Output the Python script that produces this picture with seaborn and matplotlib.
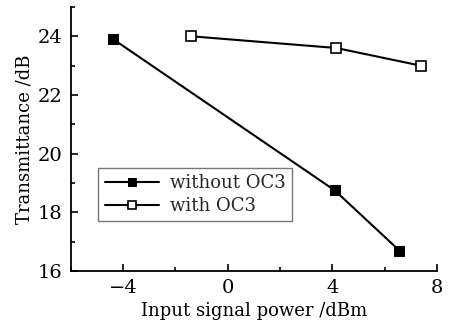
import matplotlib
matplotlib.use("Agg")
import matplotlib.pyplot as plt
import seaborn as sns
import pandas as pd
from matplotlib.ticker import MultipleLocator

x_without = [-4.38, 4.09, 6.56]
y_without = [23.9, 18.75, 16.7]
x_with = [-1.41, 4.15, 7.37]
y_with = [24.0, 23.6, 23.0]
labels = ["without OC3", "with OC3"]

sns.set_theme(style="ticks")
plt.rcParams['font.family'] = ['DejaVu Serif']
plt.rcParams['mathtext.fontset'] = 'dejavuserif'

fig = plt.figure(figsize=(4.51, 3.29), dpi=100)
ax = fig.add_axes([0.157, 0.176, 0.812, 0.803])

df1 = pd.DataFrame({"x": x_without, "y": y_without})
df2 = pd.DataFrame({"x": x_with, "y": y_with})
sns.lineplot(data=df1, x="x", y="y", ax=ax, color="black", lw=1.5, marker="s",
             markersize=7, markerfacecolor="black", markeredgecolor="black",
             label=labels[0], sort=False)
sns.lineplot(data=df2, x="x", y="y", ax=ax, color="black", lw=1.5, marker="s",
             markersize=7, markerfacecolor="white", markeredgecolor="black",
             markeredgewidth=1.2, label=labels[1], sort=False)

ax.set_xlim(-6, 8)
ax.set_ylim(16, 25)
ax.xaxis.set_minor_locator(MultipleLocator(2))
ax.yaxis.set_major_locator(MultipleLocator(2))
ax.yaxis.set_minor_locator(MultipleLocator(1))
ax.set_xticks([-4, 0, 4, 8])
ax.set_xticklabels(["\u22124", "0", "4", "8"])
ax.tick_params(which="both", direction="in", colors="black", labelsize=14, width=1.2)
ax.tick_params(which="major", length=5, pad=6)
ax.tick_params(which="minor", length=3)
sns.despine(ax=ax)
for s in ["left", "bottom"]:
    ax.spines[s].set_linewidth(1.3)
    ax.spines[s].set_color("black")
ax.set_xlabel("Input signal power /dBm", fontsize=13, color="black", labelpad=3)
ax.set_ylabel("Transmittance /dB", fontsize=13, color="black", labelpad=3)

leg = ax.legend(loc="upper left", bbox_to_anchor=(0.075, 0.39), fontsize=13,
                frameon=True, fancybox=False, edgecolor="#555555",
                handlelength=3.0, borderpad=0.35, labelspacing=0.25, handletextpad=0.6,
                borderaxespad=0, markerscale=0.75)
leg.get_frame().set_linewidth(1.0)

fig.savefig("out.png", dpi=100)
